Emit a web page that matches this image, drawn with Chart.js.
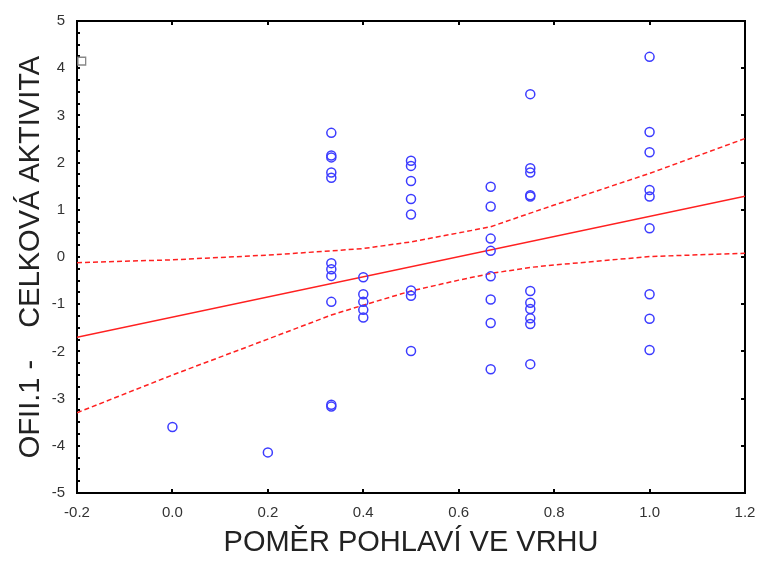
<!DOCTYPE html>
<html>
<head>
<meta charset="utf-8">
<script src="https://cdn.jsdelivr.net/npm/chart.js@4.4.0/dist/chart.umd.min.js"></script>
<style>
  html, body { margin: 0; padding: 0; background: #fff; }
</style>
</head>
<body>
<canvas id="graf" width="759" height="562"></canvas>
<script>
// body dat: pomer pohlavi (x) a celkova aktivita (y)
const pomer = [
  0.0,
  0.2,
  0.333, 0.333, 0.333, 0.333, 0.333, 0.333, 0.333, 0.333, 0.333, 0.333, 0.333,
  0.4, 0.4, 0.4, 0.4, 0.4,
  0.5, 0.5, 0.5, 0.5, 0.5, 0.5, 0.5, 0.5,
  0.667, 0.667, 0.667, 0.667, 0.667, 0.667, 0.667, 0.667,
  0.75, 0.75, 0.75, 0.75, 0.75, 0.75, 0.75, 0.75, 0.75, 0.75, 0.75,
  1.0, 1.0, 1.0, 1.0, 1.0, 1.0, 1.0, 1.0, 1.0
];
const aktivita = [
  -3.60,
  -4.14,
  2.63, 2.15, 2.11, 1.79, 1.68, -0.13, -0.26, -0.40, -0.95, -3.13, -3.17,
  -0.43, -0.79, -0.95, -1.12, -1.28,
  2.04, 1.93, 1.61, 1.23, 0.90, -0.71, -0.82, -1.99,
  1.49, 1.07, 0.39, 0.13, -0.41, -0.90, -1.40, -2.38,
  3.45, 1.88, 1.79, 1.31, 1.28, -0.72, -0.97, -1.10, -1.30, -1.42, -2.27,
  4.24, 2.65, 2.22, 1.42, 1.28, 0.61, -0.79, -1.31, -1.97
];

// regresni primka
const primkaX = [-0.2, 1.2];
const primkaY = [-1.70, 1.29];

// pas spolehlivosti
const pasX = [-0.2, 0.0, 0.2, 0.333, 0.4, 0.5, 0.6, 0.667, 0.75, 0.8, 1.0, 1.2];
const pasHorni = [-0.12, -0.06, 0.04, 0.13, 0.18, 0.32, 0.51, 0.64, 0.93, 1.10, 1.77, 2.51];
const pasDolni = [-3.30, -2.50, -1.74, -1.23, -1.02, -0.72, -0.49, -0.35, -0.22, -0.17, 0.01, 0.08];

// znacka v levem hornim rohu
const znackaX = [-0.19];
const znackaY = [4.15];

const xTicks = [-0.2, 0.0, 0.2, 0.4, 0.6, 0.8, 1.0, 1.2];
const yTicks = [-5, -4, -3, -2, -1, 0, 1, 2, 3, 4, 5];
const yMinor = [];
for (let v = -5; v <= 5; v += 0.25) yMinor.push(v);

const body = (xs, ys) => xs.map((x, i) => ({ x: x, y: ys[i] }));

const ramecek = {
  id: 'ramecek',
  beforeDatasetsDraw(chart) {
    const ctx = chart.ctx;
    const a = chart.chartArea;
    const sx = chart.scales.x, sy = chart.scales.y;
    ctx.save();
    ctx.strokeStyle = '#000';
    ctx.lineWidth = 2;
    ctx.strokeRect(a.left, a.top, a.right - a.left, a.bottom - a.top);
    ctx.beginPath();
    xTicks.slice(1, -1).forEach(v => {
      const p = Math.round(sx.getPixelForValue(v));
      ctx.moveTo(p, a.bottom); ctx.lineTo(p, a.bottom - 4);
      ctx.moveTo(p, a.top); ctx.lineTo(p, a.top + 4);
    });
    yTicks.slice(1, -1).forEach(v => {
      const p = Math.round(sy.getPixelForValue(v));
      ctx.moveTo(a.right, p); ctx.lineTo(a.right - 4, p);
    });
    yMinor.slice(1, -1).forEach(v => {
      const p = Math.round(sy.getPixelForValue(v));
      ctx.moveTo(a.left, p); ctx.lineTo(a.left + 3, p);
    });
    ctx.stroke();
    ctx.restore();
  }
};

new Chart(document.getElementById('graf'), {
  type: 'scatter',
  data: {
    datasets: [
      {
        data: body(pomer, aktivita),
        showLine: false,
        pointRadius: 4.5,
        pointBorderWidth: 1.5,
        pointBorderColor: '#3c3cff',
        pointBackgroundColor: 'rgba(0,0,0,0)'
      },
      {
        data: body(primkaX, primkaY),
        showLine: true,
        borderColor: '#ff2020',
        borderWidth: 1.5,
        pointRadius: 0
      },
      {
        data: body(pasX, pasHorni),
        showLine: true,
        borderColor: '#ff2020',
        borderWidth: 1.5,
        borderDash: [5, 3],
        pointRadius: 0
      },
      {
        data: body(pasX, pasDolni),
        showLine: true,
        borderColor: '#ff2020',
        borderWidth: 1.5,
        borderDash: [5, 3],
        pointRadius: 0
      },
      {
        data: body(znackaX, znackaY),
        showLine: false,
        pointStyle: 'rect',
        pointRadius: 5.5,
        pointBorderWidth: 1.3,
        pointBorderColor: '#888',
        pointBackgroundColor: '#fff',
        clip: false
      }
    ]
  },
  options: {
    responsive: false,
    devicePixelRatio: 1,
    animation: false,
    layout: { padding: { top: 21, right: 14, left: 0, bottom: 0 } },
    plugins: { legend: { display: false }, tooltip: { enabled: false } },
    scales: {
      x: {
        type: 'linear',
        min: -0.2,
        max: 1.2,
        grid: { display: false, drawTicks: false },
        border: { display: false },
        afterBuildTicks: s => { s.ticks = xTicks.map(v => ({ value: v })); },
        afterFit: s => {
          s.height = 69;
          s.paddingLeft = s.paddingRight = s.paddingTop = s.paddingBottom = 0;
        },
        ticks: {
          padding: 11,
          maxRotation: 0,
          autoSkip: false,
          color: '#333',
          font: { family: 'Liberation Sans', size: 15 },
          callback: v => v.toFixed(1)
        },
        title: {
          display: true,
          text: 'POMĚR POHLAVÍ VE VRHU',
          color: '#222',
          font: { family: 'Liberation Sans', size: 29 },
          padding: { top: 0, bottom: 2 }
        }
      },
      y: {
        type: 'linear',
        min: -5,
        max: 5,
        grid: { display: false, drawTicks: false },
        border: { display: false },
        afterBuildTicks: s => { s.ticks = yTicks.map(v => ({ value: v })); },
        afterFit: s => {
          s.width = 77;
          s.paddingLeft = s.paddingRight = s.paddingTop = s.paddingBottom = 0;
        },
        ticks: {
          padding: 12,
          autoSkip: false,
          color: '#333',
          font: { family: 'Liberation Sans', size: 15 },
          callback: v => String(v)
        },
        title: {
          display: true,
          text: 'OFII.1 -    CELKOVÁ AKTIVITA',
          color: '#222',
          font: { family: 'Liberation Sans', size: 29 },
          padding: { top: 14, bottom: 0 }
        }
      }
    }
  },
  plugins: [ramecek]
});
</script>
</body>
</html>
